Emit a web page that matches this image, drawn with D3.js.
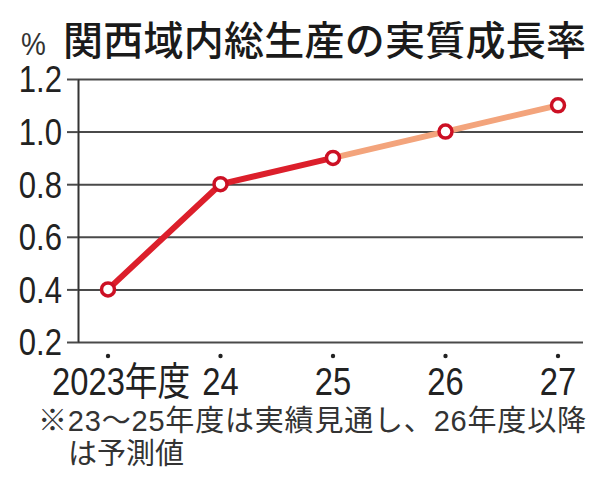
<!DOCTYPE html>
<html>
<head>
<meta charset="utf-8">
<script src="https://cdn.jsdelivr.net/npm/d3@7"></script>
<style>
  html, body { margin: 0; padding: 0; background: #fff; }
  svg { display: block; }
</style>
</head>
<body>
<div id="chart"></div>
<script>
// Data
const years = ['2023年度', '24', '25', '26', '27'];
const growth = [0.4, 0.8, 0.9, 1.0, 1.1];
const actualCount = 3; // 23-25 = 実績見通し, 26- = 予測値
const yTicks = [0.2, 0.4, 0.6, 0.8, 1.0, 1.2];
const titleText = '関西域内総生産の実質成長率';
const unitText = '%';
const noteLines = ['※23〜25年度は実績見通し、26年度以降', 'は予測値'];

const width = 600;
const height = 487;
const marginLeft = 78;
const marginRight = 17;
const marginTop = 79;
const plotBottom = 342;

const latin = '"Liberation Sans", Arial, "Noto Sans CJK JP", sans-serif';
const cjk = '"Noto Sans CJK JP", "Noto Sans CJK SC", sans-serif';

const svg = d3.select('#chart')
  .append('svg')
  .attr('width', width)
  .attr('height', height)
  .attr('viewBox', [0, 0, width, height]);

const x = d3.scalePoint()
  .domain(years)
  .range([108, 558]);

const y = d3.scaleLinear()
  .domain([0.2, 1.2])
  .range([plotBottom, marginTop]);

// Title and unit
svg.append('text')
  .attr('x', 63)
  .attr('y', 38)
  .attr('dominant-baseline', 'central')
  .attr('font-family', cjk)
  .attr('font-weight', 500)
  .attr('font-size', 40)
  .attr('textLength', 523)
  .attr('fill', '#1a1a1a')
  .text(titleText);

svg.append('text')
  .attr('transform', 'translate(21,55) scale(0.9,1)')
  .attr('font-family', latin)
  .attr('font-size', 31)
  .attr('fill', '#333')
  .text(unitText);

// Gridlines
svg.append('g')
  .attr('transform', `translate(${marginLeft},0)`)
  .call(d3.axisLeft(y).tickValues(yTicks).tickSize(-(width - marginRight - marginLeft)).tickFormat(''))
  .call(g => g.select('.domain').remove())
  .call(g => g.selectAll('line').attr('stroke', '#4a4a4a').attr('stroke-width', 2));

// Y axis with ticks and labels
const yAxis = svg.append('g')
  .attr('transform', `translate(${marginLeft},0)`)
  .call(d3.axisLeft(y).tickValues(yTicks).tickSize(11).tickSizeOuter(0).tickFormat(d3.format('.1f')));

yAxis.select('.domain').attr('stroke', '#333').attr('stroke-width', 2);
yAxis.selectAll('.tick line').attr('stroke', '#4a4a4a').attr('stroke-width', 2);
yAxis.selectAll('.tick text')
  .attr('x', null)
  .attr('dy', null)
  .attr('dominant-baseline', 'central')
  .attr('transform', 'translate(-16,0) scale(0.84,1)')
  .attr('font-family', latin)
  .attr('font-size', 37)
  .attr('fill', '#222');

// Lines: actual (red) and forecast (orange)
const points = years.map((yr, i) => ({ yr, v: growth[i], i }));
const line = d3.line().x(d => x(d.yr)).y(d => y(d.v));

svg.append('path')
  .datum(points.slice(actualCount - 1))
  .attr('d', line)
  .attr('fill', 'none')
  .attr('stroke', '#f3a47c')
  .attr('stroke-width', 6);

svg.append('path')
  .datum(points.slice(0, actualCount))
  .attr('d', line)
  .attr('fill', 'none')
  .attr('stroke', '#dc1f2b')
  .attr('stroke-width', 6)
  .attr('stroke-linejoin', 'round');

svg.append('g')
  .selectAll('circle')
  .data(points)
  .join('circle')
  .attr('cx', d => x(d.yr))
  .attr('cy', d => y(d.v))
  .attr('r', 6.5)
  .attr('fill', '#fff')
  .attr('stroke', '#cc1024')
  .attr('stroke-width', 3.5);

// X axis dots and labels
svg.append('g')
  .selectAll('circle')
  .data(years)
  .join('circle')
  .attr('cx', d => x(d))
  .attr('cy', 356)
  .attr('r', 2.2)
  .attr('fill', '#222');

svg.append('g')
  .selectAll('text')
  .data(years)
  .join('text')
  .attr('transform', (d, i) => i === 0
    ? `translate(${x(d) - 56},395) scale(0.84,1)`
    : `translate(${x(d)},395) scale(0.84,1)`)
  .attr('text-anchor', (d, i) => i === 0 ? 'start' : 'middle')
  .attr('font-family', latin)
  .attr('font-size', 39)
  .attr('fill', '#222')
  .text(d => d);

// Footnote
svg.append('g')
  .selectAll('text')
  .data(noteLines)
  .join('text')
  .attr('x', (d, i) => i === 0 ? 38 : 68)
  .attr('y', (d, i) => 431 + i * 33)
  .attr('textLength', (d, i) => i === 0 ? 548 : null)
  .attr('font-family', latin)
  .attr('font-size', 29)
  .attr('fill', '#333')
  .text(d => d);
</script>
</body>
</html>
